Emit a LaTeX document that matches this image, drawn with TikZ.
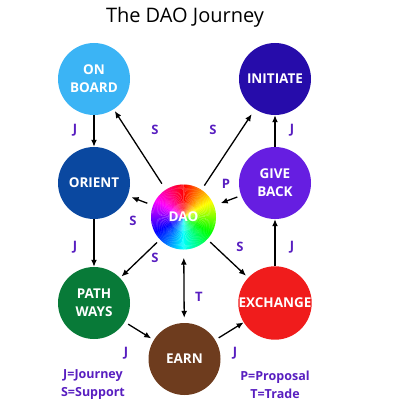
\documentclass[tikz,border=0pt]{standalone}
\usepackage{fontspec}
\setmainfont{Open Sans}
\usetikzlibrary{arrows.meta,calc}
\definecolor{cOnb}{RGB}{59,180,245}
\definecolor{cIni}{RGB}{38,12,170}
\definecolor{cOri}{RGB}{10,72,160}
\definecolor{cGiv}{RGB}{102,30,225}
\definecolor{cPat}{RGB}{8,122,56}
\definecolor{cExc}{RGB}{240,28,28}
\definecolor{cEar}{RGB}{110,60,30}
\definecolor{lab}{RGB}{88,30,192}
\begin{document}
\begin{tikzpicture}[x=1pt,y=-1pt,
  circ/.style={circle, minimum size=72pt, inner sep=0pt, text=white, align=center,
    font=\bfseries\fontsize{13.5}{18}\selectfont},
  tip/.style={Latex[length=7pt,width=6pt]},
  arr/.style={-{Latex[length=7pt,width=6pt]}, line width=1.3pt, shorten <=4pt, shorten >=3pt},
  lbl/.style={text=lab, font=\bfseries\fontsize{13}{15}\selectfont},
  leg/.style={text=lab, font=\bfseries\fontsize{12.5}{18}\selectfont, align=center}]
\useasboundingbox (0,0) rectangle (402,409);
\node[font=\fontsize{20}{24}\selectfont] (title) at (185,17) {The DAO Journey};
% circles
\node[circ, fill=cOnb] (onb) at (94,79) {ON\\BOARD};
\node[circ, fill=cIni] (ini) at (275,79) {INITIATE};
\node[circ, fill=cOri] (ori) at (94,183) {ORIENT};
\node[circ, fill=cGiv] (giv) at (275,183) {GIVE\\BACK};
\node[circ, fill=cPat] (pat) at (94,303) {PATH\\WAYS};
\node[circ, fill=cExc] (exc) at (275,303) {EXCHANGE};
\node[circ, fill=cEar] (ear) at (184.5,359) {EARN};
% DAO colour wheel
\coordinate (dc) at (183.5,217);
\foreach \i in {0,...,179}{
  \pgfmathsetmacro\h{\i/180}
  \definecolor{wc}{hsb}{\h,1,1}
  \fill[wc] (dc) -- ($(dc)+({2*\i-90}:32.5)$) -- ($(dc)+({2*\i-90+2.4}:32.5)$) -- cycle;
}
\foreach \r in {14,8}{
  \fill[white, opacity=0.12] (dc) circle (\r);
}
\node[circle, minimum size=65pt, inner sep=0pt, text=white,
  font=\bfseries\fontsize{13.5}{18}\selectfont] (dao) at (dc) {DAO};
% journey arrows
\draw[arr, shorten <=0pt, shorten >=0pt] (onb) -- (ori);
\draw[arr, shorten <=0pt, shorten >=0pt] (ori) -- (pat);
\draw[arr] (pat) -- (ear);
\draw[arr, shorten >=0pt] (ear) -- (exc);
\draw[arr, shorten <=0pt, shorten >=0pt] (exc) -- (giv);
\draw[arr, shorten <=0pt, shorten >=0pt] (giv) -- (ini);
% support arrows
\draw[arr, shorten <=7pt, shorten >=2pt] (dao) -- (onb);
\draw[arr, shorten <=5pt, shorten >=6pt] (dao) -- (ini);
\draw[arr, shorten <=6pt, shorten >=4pt] (dao) -- (ori);
\draw[arr, shorten <=4pt, shorten >=7pt] (giv) -- (dao);
\draw[arr, shorten <=4pt, shorten >=2pt] (dao) -- (pat);
\draw[arr, shorten <=4pt, shorten >=3pt] (dao) -- (exc);
\draw[{Latex[length=7pt,width=6pt]}-{Latex[length=7pt,width=6pt]}, line width=1.3pt,
  shorten <=8pt, shorten >=5pt] (dao) -- (ear);
% letter labels
\node[lbl] (l1) at (75,130) {J};
\node[lbl] (l2) at (75,247) {J};
\node[lbl] (l3) at (126,353) {J};
\node[lbl] (l4) at (235,353) {J};
\node[lbl] (l5) at (292,247) {J};
\node[lbl] (l6) at (292,130) {J};
\node[lbl] (l7) at (155,130) {S};
\node[lbl] (l8) at (213,130) {S};
\node[lbl] (l9) at (133,221) {S};
\node[lbl] (l10) at (226,184) {P};
\node[lbl] (l11) at (155,258) {S};
\node[lbl] (l12) at (240,247) {S};
\node[lbl] (l13) at (199,297) {T};
% legends
\node[leg] (leg1) at (93,385) {J=Journey\\S=Support};
\node[leg] (leg2) at (275,385) {P=Proposal\\T=Trade};
\end{tikzpicture}
\end{document}
